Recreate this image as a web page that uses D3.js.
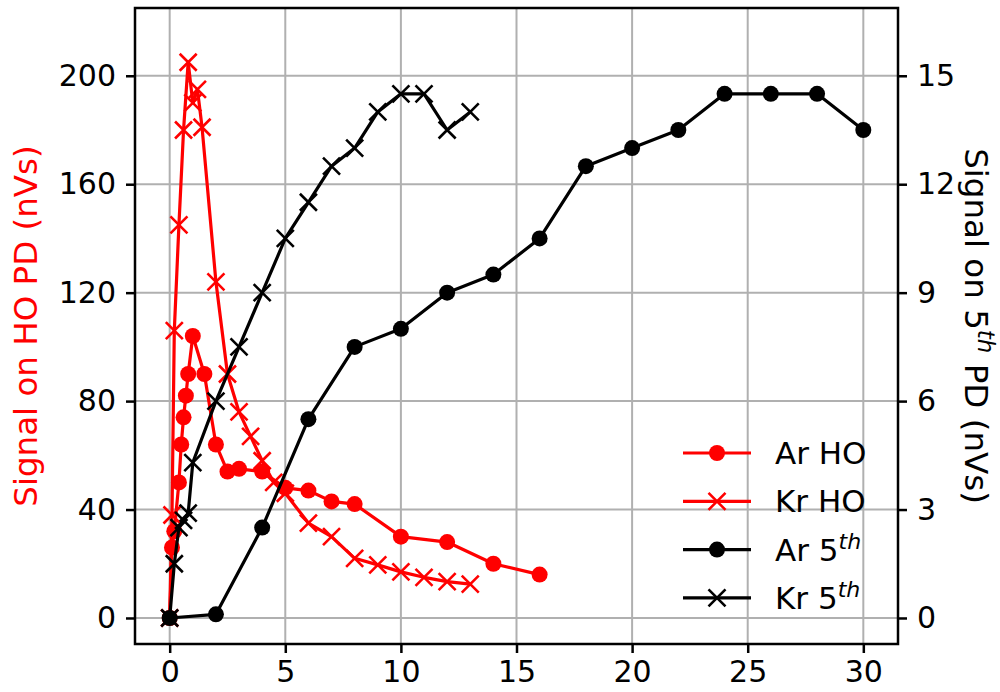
<!DOCTYPE html>
<html>
<head>
<meta charset="utf-8">
<script src="https://cdn.jsdelivr.net/npm/d3@7"></script>
<style>
  html, body { margin: 0; padding: 0; background: #fff; }
  svg text { font-family: "DejaVu Sans", sans-serif; }
</style>
</head>
<body>
<svg id="chart" width="1000" height="692"></svg>
<script>
// Harmonic (HO) photodiode signal, left axis (nVs)
const arHoX = [0, 0.1, 0.2, 0.4, 0.5, 0.6, 0.7, 0.8, 1.0, 1.5, 2, 2.5, 3, 4, 5, 6, 7, 8, 10, 12, 14, 16];
const arHoY = [0, 26, 32, 50, 64, 74, 82, 90, 104, 90, 64, 54, 55, 54, 48, 47, 43, 42, 30, 28, 20, 16];
const krHoX = [0, 0.1, 0.2, 0.4, 0.6, 0.8, 1.0, 1.2, 1.4, 2, 2.5, 3, 3.5, 4, 4.5, 5, 6, 7, 8, 9, 10, 11, 12, 13];
const krHoY = [0, 38, 106, 145, 180, 205, 190, 195, 181, 124, 90, 76, 67, 58, 50, 46, 35, 30, 22, 19.6, 17, 15, 13.4, 12.5];

// 5th harmonic photodiode signal, right axis (nVs)
const ar5X = [0, 2, 4, 6, 8, 10, 12, 14, 16, 18, 20, 22, 24, 26, 28, 30];
const ar5Y = [0, 0.1, 2.5, 5.5, 7.5, 8, 9, 9.5, 10.5, 12.5, 13, 13.5, 14.5, 14.5, 14.5, 13.5];
const kr5X = [0, 0.2, 0.4, 0.6, 0.8, 1, 2, 3, 4, 5, 6, 7, 8, 9, 10, 11, 12, 13];
const kr5Y = [0, 1.5, 2.5, 2.7, 2.9, 4.3, 6, 7.5, 9, 10.5, 11.5, 12.5, 13, 14, 14.5, 14.5, 13.5, 14];

const xTicks = [0, 5, 10, 15, 20, 25, 30];
const leftTicks = [0, 40, 80, 120, 160, 200];
const rightTicks = [0, 3, 6, 9, 12, 15];

const svg = d3.select("#chart");
const L = 135, R = 898, T = 8, B = 644;
const FS = 30;     // tick labels
const LFS = 32.5;  // axis titles and legend

const x = d3.scaleLinear().domain([-1.5, 31.5]).range([L, R]);
const yL = d3.scaleLinear().domain([-9.6, 225]).range([B, T]);
const yR = d3.scaleLinear().domain([-9.6 / 13.3333, 225 / 13.3333]).range([B, T]);

// grid
const grid = svg.append("g").attr("stroke", "#b0b0b0").attr("stroke-width", 2);
xTicks.forEach(t => grid.append("line")
  .attr("x1", x(t)).attr("x2", x(t)).attr("y1", T).attr("y2", B));
leftTicks.forEach(t => grid.append("line")
  .attr("x1", L).attr("x2", R).attr("y1", yL(t)).attr("y2", yL(t)));

// axes
function styleAxis(g) {
  g.select(".domain").remove();
  g.selectAll(".tick line").attr("stroke", "#000").attr("stroke-width", 2.5);
  g.selectAll(".tick text").attr("fill", "#000").attr("font-size", FS)
    .attr("font-family", "DejaVu Sans, sans-serif");
}
svg.append("g").attr("transform", `translate(0,${B})`)
  .call(d3.axisBottom(x).tickValues(xTicks).tickSize(9).tickPadding(8))
  .call(styleAxis);
svg.append("g").attr("transform", `translate(${L},0)`)
  .call(d3.axisLeft(yL).tickValues(leftTicks).tickSize(9).tickPadding(10))
  .call(styleAxis);
svg.append("g").attr("transform", `translate(${R},0)`)
  .call(d3.axisRight(yR).tickValues(rightTicks).tickSize(9).tickPadding(10))
  .call(styleAxis);

// series drawing
function series(xs, ys, yScale, color, marker) {
  const pts = xs.map((v, i) => [x(v), yScale(ys[i])]);
  const g = svg.append("g");
  g.append("path").attr("d", d3.line()(pts))
    .attr("fill", "none").attr("stroke", color).attr("stroke-width", 3.2)
    .attr("stroke-linejoin", "round");
  pts.forEach(p => drawMarker(g, p[0], p[1], color, marker));
}
function drawMarker(g, cx, cy, color, marker) {
  if (marker === "o") {
    g.append("circle").attr("cx", cx).attr("cy", cy).attr("r", 8).attr("fill", color);
  } else {
    const s = 8.5;
    g.append("path")
      .attr("d", `M${cx - s},${cy - s}L${cx + s},${cy + s}M${cx - s},${cy + s}L${cx + s},${cy - s}`)
      .attr("stroke", color).attr("stroke-width", 2.6).attr("fill", "none");
  }
}

series(arHoX, arHoY, yL, "#ff0000", "o");
series(krHoX, krHoY, yL, "#ff0000", "x");
series(ar5X, ar5Y, yR, "#000000", "o");
series(kr5X, kr5Y, yR, "#000000", "x");

// frame
svg.append("rect").attr("x", L).attr("y", T).attr("width", R - L).attr("height", B - T)
  .attr("fill", "none").attr("stroke", "#000").attr("stroke-width", 2.5);

// axis labels
svg.append("text")
  .attr("transform", `translate(37,${(T + B) / 2}) rotate(-90)`)
  .attr("text-anchor", "middle").attr("font-size", LFS).attr("fill", "#ff0000")
  .text("Signal on HO PD (nVs)");

const rl = svg.append("text")
  .attr("transform", `translate(965,${(T + B) / 2}) rotate(90)`)
  .attr("text-anchor", "middle").attr("font-size", LFS).attr("fill", "#000");
rl.append("tspan").text("Signal on 5");
rl.append("tspan").attr("dy", -13).attr("font-size", 23).attr("font-style", "italic").text("th");
rl.append("tspan").attr("dy", 13).text(" PD (nVs)");

// legend
const legendItems = [
  { name: "Ar HO", sup: null, color: "#ff0000", marker: "o" },
  { name: "Kr HO", sup: null, color: "#ff0000", marker: "x" },
  { name: "Ar 5", sup: "th", color: "#000000", marker: "o" },
  { name: "Kr 5", sup: "th", color: "#000000", marker: "x" }
];
const lg = svg.append("g");
legendItems.forEach((d, i) => {
  const cy = 453 + i * 48.3;
  lg.append("line").attr("x1", 683).attr("x2", 751).attr("y1", cy).attr("y2", cy)
    .attr("stroke", d.color).attr("stroke-width", 3.2);
  drawMarker(lg, 717, cy, d.color, d.marker);
  const t = lg.append("text").attr("x", 775).attr("y", cy + 11)
    .attr("font-size", 31).attr("fill", "#000");
  t.append("tspan").text(d.name);
  if (d.sup) {
    t.append("tspan").attr("dy", -12).attr("font-size", 22).attr("font-style", "italic").text(d.sup);
  }
});
</script>
</body>
</html>
